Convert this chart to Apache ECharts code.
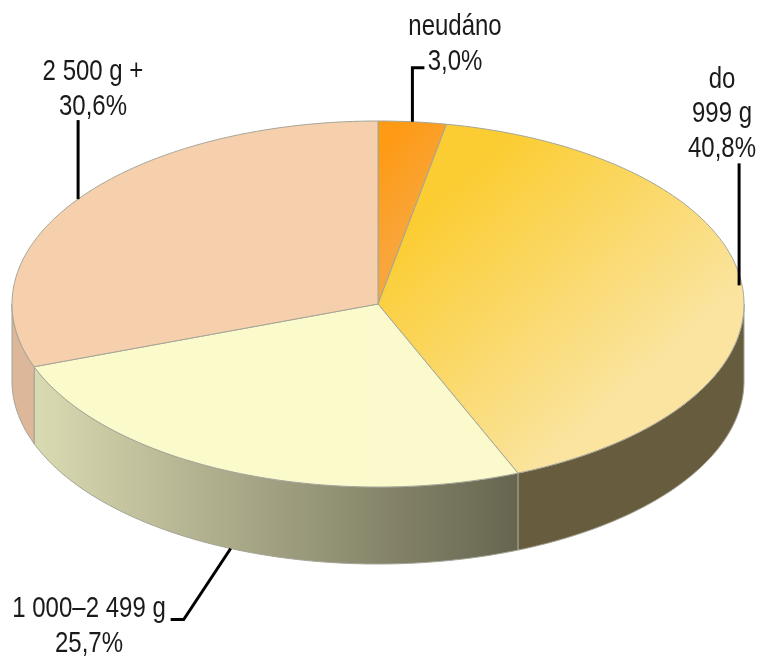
<!DOCTYPE html>
<html>
<head>
<meta charset="utf-8">
<style>html,body{margin:0;padding:0;background:#fff}#c{width:761px;height:656px}</style>
<script src="https://cdn.jsdelivr.net/npm/echarts@6/dist/echarts.min.js"></script>
</head>
<body>
<div id="c"></div>
<script>
// Data, clockwise from 12 o'clock
const categories = ['neudáno', 'do\n999 g', '1 000–2 499 g', '2 500 g +'];
const values = [3.0, 40.8, 25.7, 30.6];

// Layout and style
const CX = 378, CY = 304, RX = 366, RY = 183, DEPTH = 77;
const G = (x1, y1, x2, y2, stops) => new echarts.graphic.LinearGradient(x1, y1, x2, y2,
  stops.map((c, i) => ({offset: i / (stops.length - 1), color: c})), true);
const topFill = [
  G(378, 150, 440, 200, ['#fe9a14', '#f8a63c']),
  G(440, 200, 620, 400, ['#fbcd33', '#fae4a0']),
  G(0, 0, 761, 0, ['#fafacb', '#fafacd']),
  G(0, 0, 761, 0, ['#f6d0ad', '#f6d0ad'])
];
const wallFill = [
  null,
  G(0, 0, 761, 0, ['#685e3f', '#675d3e']),
  G(35, 0, 517, 0, ['#dadab2', '#66654f']),
  G(0, 0, 761, 0, ['#dcb79a', '#dcb79a'])
];
const labelLayout = [
  {x: 455, y: 44, size: 30, pts: [[0, 0], [0, -54], [12, -54]]},
  {x: 722, y: 114, size: 30, pts: [[-3, 0], [-3, -122]]},
  {x: 89, y: 626, size: 30, pts: [[0, 0], [-47, 71], [-60, 71]]},
  {x: 93, y: 89, size: 30, pts: [[0, 0], [0, -79]]}
];

const total = values.reduce((a, b) => a + b, 0);
function angles(i) {
  let s = 0;
  for (let k = 0; k < i; k++) s += values[k];
  return [s / total * 2 * Math.PI, (s + values[i]) / total * 2 * Math.PI];
}
const pt = (t, dy) => [CX + RX * Math.sin(t), CY - RY * Math.cos(t) + (dy || 0)];
function arc(a, b, dy) {
  const n = Math.max(2, Math.ceil(Math.abs(b - a) / 0.01)), out = [];
  for (let i = 0; i <= n; i++) out.push(pt(a + (b - a) * i / n, dy));
  return out;
}

function renderWall(params, api) {
  const i = params.dataIndex; api.value(0);
  const [a, b] = angles(i);
  const s = Math.max(a, Math.PI / 2), e = Math.min(b, Math.PI * 1.5);
  if (e <= s) return {type: 'group', children: []};
  return {
    type: 'polygon',
    shape: {points: arc(s, e, 0).concat(arc(e, s, DEPTH))},
    style: {fill: wallFill[i], stroke: '#a3a396', lineWidth: 1}
  };
}
function renderTop(params, api) {
  const i = params.dataIndex; api.value(0);
  const [a, b] = angles(i);
  return {
    type: 'polygon',
    shape: {points: [[CX, CY]].concat(arc(a, b, 0))},
    style: {fill: topFill[i], stroke: '#a5a598', lineWidth: 1, lineJoin: 'round'}
  };
}
function renderLabel(params, api) {
  const i = params.dataIndex, v = api.value(0);
  const [a, b] = angles(i), m = (a + b) / 2;
  const front = m > Math.PI / 2 && m < Math.PI * 1.5;
  const p = pt(m, front ? DEPTH : 0), L = labelLayout[i];
  return {
    type: 'group',
    children: [
      {type: 'polyline',
       shape: {points: L.pts.map(q => [p[0] + q[0], p[1] + q[1]])},
       style: {fill: 'none', stroke: '#000', lineWidth: 3, lineJoin: 'miter'}},
      {type: 'text', x: L.x, y: L.y, scaleX: 0.8,
       style: {x: 0, y: 0,
         text: categories[i] + '\n' + v.toFixed(1).replace('.', ',') + '%',
         align: 'center', verticalAlign: 'middle',
         font: L.size + 'px "Liberation Sans",sans-serif',
         lineHeight: 34.5, fill: '#1a1a1a'}}
    ]
  };
}

const chart = echarts.init(document.getElementById('c'), null, {renderer: 'canvas'});
chart.setOption({
  backgroundColor: '#fff',
  animation: false,
  tooltip: {show: false},
  series: [
    {type: 'custom', coordinateSystem: 'none', silent: true, z: 1, data: values, renderItem: renderWall},
    {type: 'custom', coordinateSystem: 'none', silent: true, z: 2, data: values, renderItem: renderTop},
    {type: 'custom', coordinateSystem: 'none', silent: true, z: 3, data: values, renderItem: renderLabel}
  ]
});
</script>
</body>
</html>
